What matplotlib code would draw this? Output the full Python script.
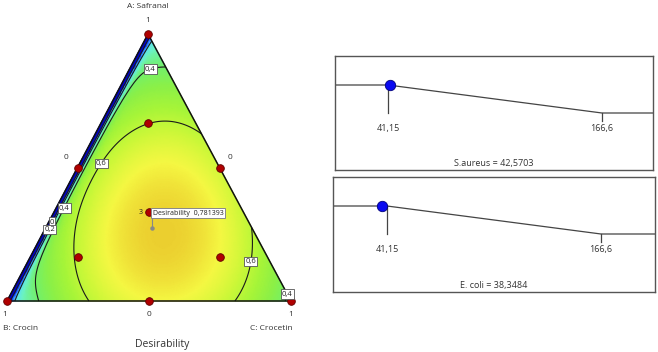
import numpy as np
import matplotlib
matplotlib.use("Agg")
import matplotlib.pyplot as plt
import matplotlib.tri as mtri
from matplotlib.colors import LinearSegmentedColormap

plt.rcParams['font.family'] = ['Open Sans', 'DejaVu Sans']

# ---------------------------------------------------------------------------
# Datos
# ---------------------------------------------------------------------------

comp_names = ["A: Safranal", "B: Crocin", "C: Crocetin"]

# puntos del diseno (fracciones A, B, C)
design_A = [1, 0, 0, 0.5, 0.5, 0, 1 / 3, 2 / 3, 1 / 6, 1 / 6]
design_B = [0, 1, 0, 0.5, 0, 0.5, 1 / 3, 1 / 6, 2 / 3, 1 / 6]
design_C = [0, 0, 1, 0, 0.5, 0.5, 1 / 3, 1 / 6, 1 / 6, 2 / 3]
centroid_reps = 3

# modelo de deseabilidad (Scheffe cubico especial)
coef_A, coef_B, coef_C = 0.24, 0.221, 0.37
coef_AB, coef_AC, coef_BC, coef_ABC = 1.15, 1.33, 1.637, 1.0
# caida brusca junto al borde C = 0
edge_c1, edge_c0 = 0.011, 0.012

contour_levels = [0, 0.2, 0.4, 0.6]
opt_A, opt_B, opt_C = 0.273, 0.352, 0.375
opt_value = 0.781393

# respuestas (minimizar)
resp_names = ["S.aureus", "E. coli"]
resp_values = [42.5703, 38.3484]
resp_low, resp_high = 41.15, 166.6

# ---------------------------------------------------------------------------
# Layout (pixeles)
# ---------------------------------------------------------------------------

W, H = 658, 352
VA, VB, VC = (148, 34), (7, 301), (291, 301)


def to_xy(a, b, c):
    a, b, c = np.asarray(a), np.asarray(b), np.asarray(c)
    x = a * VA[0] + b * VB[0] + c * VC[0]
    y = a * VA[1] + b * VB[1] + c * VC[1]
    return x, y


def desirability(a, b, c):
    base = (coef_A * a + coef_B * b + coef_C * c
            + coef_AB * a * b + coef_AC * a * c + coef_BC * b * c
            + coef_ABC * a * b * c)
    g = 1 - np.exp(-(c - edge_c1) / edge_c0)
    return base * g


def fmt(v):
    return f"{v:g}".replace(".", ",")


cmap = LinearSegmentedColormap.from_list("de", [
    (0.00, (0.00, 0.00, 0.80)),
    (0.10, (0.12, 0.35, 1.00)),
    (0.20, (0.35, 0.88, 0.98)),
    (0.30, (0.42, 0.95, 0.78)),
    (0.40, (0.45, 0.94, 0.42)),
    (0.48, (0.55, 0.94, 0.28)),
    (0.56, (0.66, 0.96, 0.22)),
    (0.63, (0.80, 0.97, 0.22)),
    (0.71, (0.96, 0.97, 0.26)),
    (0.79, (0.92, 0.80, 0.18)),
    (1.00, (0.90, 0.30, 0.10)),
])

fig = plt.figure(figsize=(W / 100, H / 100), dpi=100)
ax = fig.add_axes([0, 0, 1, 1])
ax.set_xlim(0, W)
ax.set_ylim(H, 0)
ax.axis("off")

# --- superficie ---
n = 240
aa, bb = [], []
for i in range(n + 1):
    for j in range(n + 1 - i):
        aa.append(i / n)
        bb.append(j / n)
aa = np.array(aa)
bb = np.array(bb)
cc = np.clip(1 - aa - bb, 0, 1)
px, py = to_xy(aa, bb, cc)
tri = mtri.Triangulation(px, py)
D = desirability(aa, bb, cc)

ax.tripcolor(tri, np.clip(D, 0, 1), shading="gouraud", cmap=cmap,
             vmin=0, vmax=1, zorder=1)

label_pos = {
    0: [(48, 220)],
    0.2: [(48, 229)],
    0.4: [(148, 62), (62, 207), (283, 290)],
    0.6: [(101, 163), (253, 262)],
}
for lev in contour_levels:
    cs = ax.tricontour(tri, D, levels=[lev], colors="#1a1a1a",
                       linewidths=0.8, zorder=2)
    txts = ax.clabel(cs, fmt=fmt, manual=label_pos[lev], inline=False,
                     fontsize=5.5)
    for t in txts:
        t.set_rotation(0)
        t.set_color("#222222")
        t.set_zorder(5)
        t.set_bbox(dict(boxstyle="square,pad=0.15", fc="white",
                        ec="#555555", lw=0.6))

# borde del triangulo
tx, ty = to_xy([1, 0, 0, 1], [0, 1, 0, 0], [0, 0, 1, 0])
ax.plot(tx, ty, color="#111111", lw=1.1, zorder=3)

# puntos del diseno
dx, dy = to_xy(design_A, design_B, design_C)
ax.plot(dx, dy, "o", ms=5.5, mfc="#b00000", mec="#600000", mew=0.6,
        zorder=4, clip_on=False)
cx, cy = to_xy(1 / 3, 1 / 3, 1 / 3)
ax.text(cx - 6, cy, str(centroid_reps), fontsize=5, ha="right", va="center",
        color="#222222", zorder=5)

# bandera del optimo
ox, oy = to_xy(opt_A, opt_B, opt_C)
ax.plot([ox, ox], [oy, oy - 14], color="#888888", lw=0.8, zorder=5)
ax.plot(ox, oy, "o", ms=2.2, color="#888888", zorder=5)
ax.text(ox + 1, oy - 15, f"Desirability  {fmt(opt_value)}", fontsize=5,
        ha="left", va="center", color="#222222", zorder=6,
        bbox=dict(boxstyle="square,pad=0.25", fc="white", ec="#888888", lw=0.7))

# etiquetas de los ejes
tc = "#333333"
ax.text(VA[0], 6, comp_names[0], fontsize=6, ha="center", va="center", color=tc)
ax.text(VA[0], 20, "1", fontsize=6, ha="center", va="center", color=tc)
lx, ly = to_xy(0.5, 0.5, 0)
ax.text(lx - 11, ly - 10, "0", fontsize=6, ha="center", va="center", color=tc)
rx, ry = to_xy(0.5, 0, 0.5)
ax.text(rx + 10, ry - 10, "0", fontsize=6, ha="center", va="center", color=tc)
bx, by = to_xy(0, 0.5, 0.5)
ax.text(bx, 314, "0", fontsize=6, ha="center", va="center", color=tc)
ax.text(VB[0] - 2, 314, "1", fontsize=6, ha="center", va="center", color=tc)
ax.text(VC[0], 314, "1", fontsize=6, ha="center", va="center", color=tc)
ax.text(3, 329, comp_names[1], fontsize=6, ha="left", va="center", color=tc)
ax.text(293, 329, comp_names[2], fontsize=6, ha="right", va="center", color=tc)
ax.text(162, 345, "Desirability", fontsize=7.5, ha="center", va="center",
        color=tc)

# ---------------------------------------------------------------------------
# Paneles de deseabilidad de cada respuesta
# ---------------------------------------------------------------------------

panel_boxes = [(335, 56, 653, 170), (333, 177, 655, 292)]
px_per_unit = 214 / (resp_high - resp_low)
x_ref_px = [388, 387]
y_top_px = [85, 206]

for k, (name, val) in enumerate(zip(resp_names, resp_values)):
    l, t, r, b = panel_boxes[k]
    pax = fig.add_axes([l / W, 1 - b / H, (r - l) / W, (b - t) / H])
    xmin = resp_low + (l - x_ref_px[k]) / px_per_unit
    xmax = resp_low + (r - x_ref_px[k]) / px_per_unit
    pax.set_xlim(xmin, xmax)
    ymax = 1 + (y_top_px[k] - t) / 28
    ymin = -(b - (y_top_px[k] + 28)) / 28
    pax.set_ylim(ymin, ymax)
    pax.set_xticks([])
    pax.set_yticks([])
    for s in pax.spines.values():
        s.set_color("#555555")
        s.set_linewidth(1.0)

    # rampa de minimizacion
    pax.plot([xmin, resp_low, resp_high, xmax], [1, 1, 0, 0],
             color="#444444", lw=0.9)
    pax.plot([resp_low, resp_low], [1, 0], color="#444444", lw=0.9)
    pax.plot([resp_high, resp_high], [0, -0.3], color="#444444", lw=0.9)
    pax.text(resp_low, -0.55, fmt(resp_low), fontsize=6.5, ha="center",
             va="center", color=tc)
    pax.text(resp_high, -0.55, fmt(resp_high), fontsize=6.5, ha="center",
             va="center", color=tc)

    d_val = np.clip((resp_high - val) / (resp_high - resp_low), 0, 1)
    pax.plot(val, d_val, "o", ms=7.5, mfc="#0a0af0", mec="#00007a",
             mew=0.6, zorder=4)
    pax.text((xmin + xmax) / 2, ymin + 0.22, f"{name} = {fmt(val)}",
             fontsize=6.5, ha="center", va="center", color=tc)

fig.savefig("out.png", dpi=100)
